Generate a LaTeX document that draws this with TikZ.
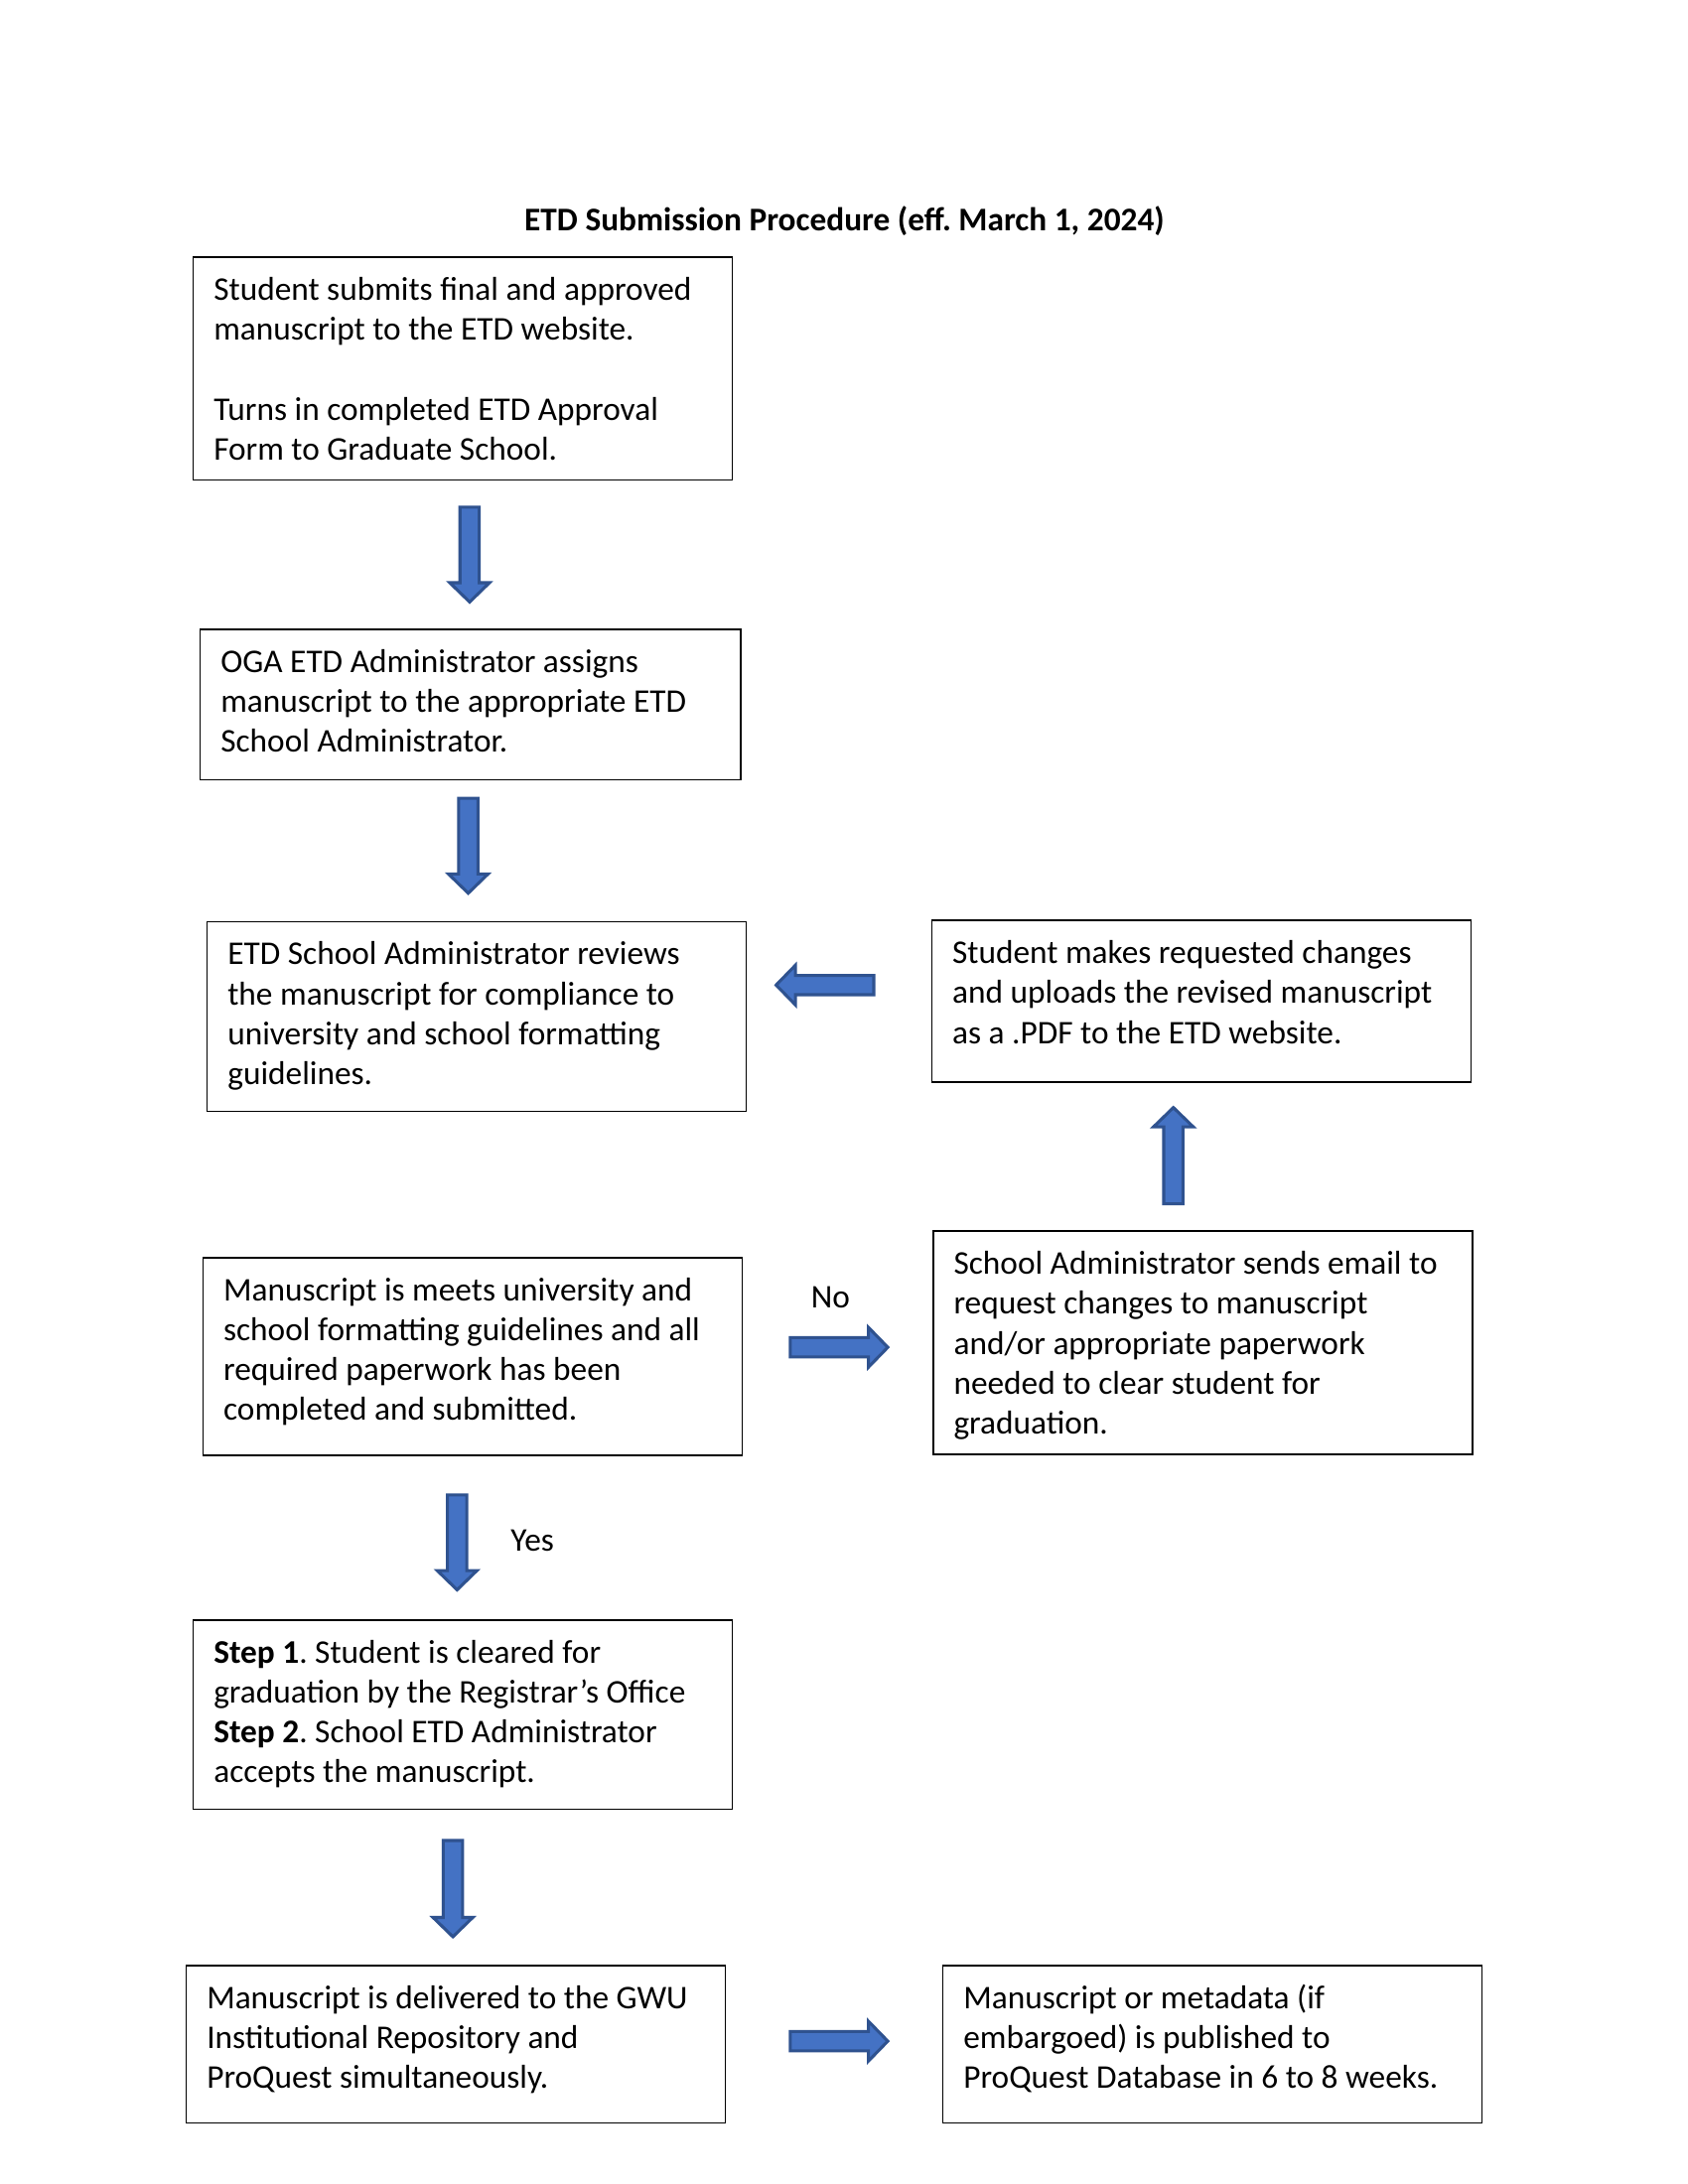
\documentclass[tikz,border=0pt]{standalone}
\usepackage{fontspec}
\setmainfont{Carlito}
\frenchspacing
\definecolor{arrfill}{HTML}{4472C4}
\definecolor{arrdraw}{HTML}{2F528F}
\tikzset{
  box/.style={draw=black, line width=0.6pt, rectangle, inner sep=0pt, minimum width=195.5pt},
  txt/.style={inner sep=0pt, anchor=base west, font=\fontsize{12}{14.5}\selectfont},
  lbl/.style={inner sep=0pt, anchor=base, font=\fontsize{12}{14.5}\selectfont},
  barrow/.style={fill=arrfill, draw=arrdraw, line width=1.1pt, line join=miter}
}
\newcommand\blockarr[3]{%
  \begin{scope}[shift={(#1)}, rotate=#2]
    \draw[barrow] (0pt,-3.5pt) -- (#3-7pt,-3.5pt) -- (#3-7pt,-7.2pt) -- (#3,0pt)
      -- (#3-7pt,7.2pt) -- (#3-7pt,3.5pt) -- (0pt,3.5pt) -- cycle;
  \end{scope}}
\newcommand\bt[1]{\parbox[t]{190pt}{\raggedright #1}}
\begin{document}
\begin{tikzpicture}[x=0.50525pt, y=-0.50525pt]
\useasboundingbox (0pt,0pt) rectangle (612pt,-792pt);
\fill[white] (0pt,0pt) rectangle (612pt,-792pt);

\node[lbl, font=\fontsize{12}{14.5}\selectfont\bfseries] (title) at (606,165.5) {ETD Submission Procedure (eff. March 1, 2024)};

% boxes
\node[box, anchor=north west, minimum height=80.84pt] (b1) at (138,184) {};
\node[box, anchor=north west, minimum height=54.57pt, minimum width=196pt] (b2) at (143,451) {};
\node[box, anchor=north west, minimum height=68.71pt] (b3) at (148,661) {};
\node[box, anchor=north west, minimum height=58.61pt] (b4) at (668,660) {};
\node[box, anchor=north west, minimum height=80.84pt] (b5) at (669,883) {};
\node[box, anchor=north west, minimum height=71.75pt] (b6) at (145,902) {};
\node[box, anchor=north west, minimum height=68.71pt] (b7) at (138,1162) {};
\node[box, anchor=north west, minimum height=57.09pt] (b8) at (133,1410) {};
\node[box, anchor=north west, minimum height=57.09pt] (b9) at (676,1410) {};

% texts
\node[txt] (t1) at (153,215.5) {\bt{Student submits final and approved\\manuscript to the ETD website.\\[14.5pt]Turns in completed ETD Approval\\Form to Graduate School.}};
\node[txt] (t2) at (158,482.5) {\bt{OGA ETD Administrator assigns\\manuscript to the appropriate ETD\\School Administrator.}};
\node[txt] (t3) at (163,692.5) {\bt{ETD School Administrator reviews\\the manuscript for compliance to\\university and school formatting\\guidelines.}};
\node[txt] (t4) at (683,691.5) {\bt{Student makes requested changes\\and uploads the revised manuscript\\as a .PDF to the ETD website.}};
\node[txt] (t5) at (684,914.5) {\bt{School Administrator sends email to\\request changes to manuscript\\and/or appropriate paperwork\\needed to clear student for\\graduation.}};
\node[txt] (t6) at (160,933.5) {\bt{Manuscript is meets university and\\school formatting guidelines and all\\required paperwork has been\\completed and submitted.}};
\node[txt] (t7) at (153,1193.5) {\bt{\textbf{Step 1}. Student is cleared for\\graduation by the Registrar’s Office\\\textbf{Step 2}. School ETD Administrator\\accepts the manuscript.}};
\node[txt] (t8) at (148,1441.5) {\bt{Manuscript is delivered to the GWU\\Institutional Repository and\\ProQuest simultaneously.}};
\node[txt] (t9) at (691,1441.5) {\bt{Manuscript or metadata (if\\embargoed) is published to\\ProQuest Database in 6 to 8 weeks.}};

% labels
\node[lbl] (no) at (596,939) {No};
\node[lbl] (yes) at (382,1113) {Yes};

% arrow anchor coordinates
\coordinate (a1) at (337,364);
\coordinate (a2) at (336,573);
\coordinate (a3) at (627,707);
\coordinate (a4) at (842,864);
\coordinate (a5) at (567,967);
\coordinate (a6) at (328,1073);
\coordinate (a7) at (325,1321);
\coordinate (a8) at (567,1465);

\blockarr{a1}{-90}{34.4pt}
\blockarr{a2}{-90}{34.4pt}
\blockarr{a3}{180}{35.4pt}
\blockarr{a4}{90}{34.9pt}
\blockarr{a5}{0}{35.4pt}
\blockarr{a6}{-90}{34.4pt}
\blockarr{a7}{-90}{34.9pt}
\blockarr{a8}{0}{35.4pt}
\end{tikzpicture}
\end{document}
